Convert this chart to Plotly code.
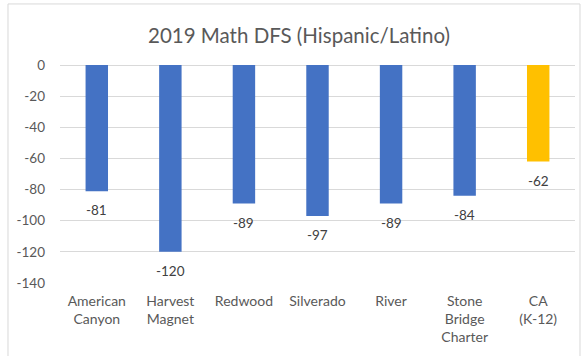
import plotly.graph_objects as go

categories = ["American<br>Canyon", "Harvest<br>Magnet", "Redwood", "Silverado", "River", "Stone<br>Bridge<br>Charter", "CA<br>(K-12)"]
values = [-81, -120, -89, -97, -89, -84, -62]
colors = ["#4472C4"] * 6 + ["#FFC000"]
tick_vals = [0, -20, -40, -60, -80, -100, -120, -140]
tick_text = ["0", "-20", "-40", "-60", "-80", "-100", "-120", "-140"]

font_family = "Lato, Carlito, Calibri, sans-serif"
grey = "#595959"

fig = go.Figure(go.Bar(
    x=categories,
    y=values,
    marker=dict(color=colors, line=dict(width=0)),
    cliponaxis=False,
))

for c, v in zip(categories, values):
    fig.add_annotation(x=c, y=v, text=str(v), showarrow=False,
                       yanchor="top", yshift=-9,
                       font=dict(family=font_family, size=13.5, color="#404040"))

fig.update_layout(
    width=584, height=356,
    margin=dict(l=60, r=9, t=65, b=73),
    paper_bgcolor="white",
    plot_bgcolor="white",
    bargap=0.695,
    showlegend=False,
    title=dict(text="2019 Math DFS (Hispanic/Latino)", xref="paper", x=0.464, xanchor="center",
               y=0.9, yanchor="middle",
               font=dict(family=font_family, size=20.5, color=grey)),
    font=dict(family=font_family, size=13, color=grey),
    xaxis=dict(showgrid=False, showline=False, ticks="", ticklabelstandoff=8,
               tickfont=dict(size=14, color=grey)),
    yaxis=dict(range=[-140, 0], tickvals=tick_vals, ticktext=tick_text,
               showgrid=True, gridcolor="#D9D9D9", gridwidth=1,
               zeroline=True, zerolinecolor="#D9D9D9", zerolinewidth=1,
               showline=False, ticks="", ticklen=0, ticklabelstandoff=14,
               tickfont=dict(size=13.5, color=grey)),
    shapes=[dict(type="rect", xref="paper", yref="paper",
                 x0=-0.101, x1=1.0097, y0=-0.34, y1=1.28,
                 line=dict(color="#D9D9D9", width=1), layer="below")],
)

fig.write_html("out.html")
